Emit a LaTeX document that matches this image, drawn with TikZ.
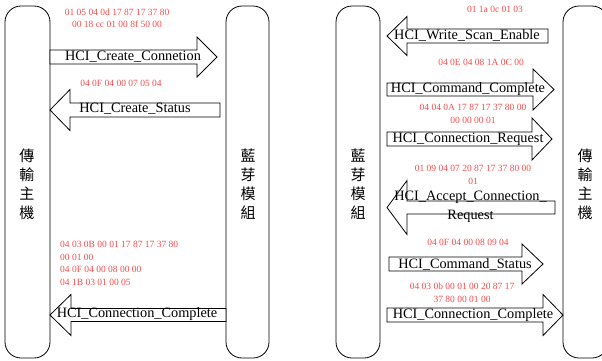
\documentclass[tikz,border=0pt]{standalone}
\usepackage{fontspec}
\setmainfont{Liberation Serif}
\newfontfamily\cjkfont{Noto Sans CJK TC}
\definecolor{hexred}{RGB}{250,75,75}
\tikzset{
  pillar/.style={draw, line width=0.8pt, rounded corners=16pt},
  arrowshape/.style={draw, line width=0.8pt, fill=white},
  lbl/.style={font=\fontsize{14.3}{19}\selectfont, inner sep=0pt, align=center},
  hex/.style={font=\fontsize{9.5}{12.5}\selectfont, text=hexred, inner sep=0pt, align=center},
  hexl/.style={hex, align=left},
  cjk/.style={font=\cjkfont\fontsize{15}{19}\selectfont, inner sep=0pt, align=center},
}
% #1 x start, #2 x shaft end, #3 x tip, #4 y centre, #5 shaft half height, #6 head half height
\newcommand{\BlockArr}[6]{%
  \draw[arrowshape] (#1,#4-#5) -- (#2,#4-#5) -- (#2,#4-#6) -- (#3,#4)
    -- (#2,#4+#6) -- (#2,#4+#5) -- (#1,#4+#5) -- cycle;}
\begin{document}
\begin{tikzpicture}[x=1pt,y=-1pt]
\useasboundingbox (0,0) rectangle (602,360);
\clip (0,0) rectangle (602,360);
% pillars
\draw[pillar] (5,6) rectangle (50,358);
\draw[pillar] (226,6) rectangle (269,358);
\draw[pillar] (336,6) rectangle (380,358);
\draw[pillar] (563,6) rectangle (608,358);
\node[cjk] (hostL) at (27,184) {傳\\輸\\主\\機};
\node[cjk] (btL) at (248,184) {藍\\芽\\模\\組};
\node[cjk] (btR) at (358,184) {藍\\芽\\模\\組};
\node[cjk] (hostR) at (585,184) {傳\\輸\\主\\機};
% left diagram arrows
\BlockArr{50}{197}{217}{57}{7}{20}
\BlockArr{220}{70}{50}{110}{7}{20.5}
\BlockArr{226}{71}{50}{315}{6.5}{20.5}
\node[lbl] (a1) at (133,57) {HCI\_Create\_Connetion};
\node[lbl] (a2) at (135,109) {HCI\_Create\_Status};
\node[lbl] (a3) at (137,314) {HCI\_Connection\_Complete};
\node[hex] (h1) at (117,18) {01 05 04 0d 17 87 17 37 80\\00 18 cc 01 00 8f 50 00};
\node[hex] (h2) at (121,83) {04 0F 04 00 07 05 04};
\node[hexl, anchor=west] (h3) at (60,263.5) {04 03 0B 00 01 17 87 17 37 80\\00 01 00\\04 0F 04 00 08 00 00\\04 1B 03 01 00 05};
% right diagram arrows
\BlockArr{548}{407}{387}{36}{7}{19.5}
\BlockArr{387}{533}{554}{89.5}{6.5}{20.5}
\BlockArr{387}{532}{552}{139}{7}{21}
\BlockArr{555}{407}{387}{207.5}{6.5}{27}
\BlockArr{389}{522}{543}{264}{7}{20}
\BlockArr{387}{543}{563}{315}{7}{20.5}
\node[lbl] (b1) at (467,35) {HCI\_Write\_Scan\_Enable};
\node[lbl] (b2) at (468,89) {HCI\_Command\_Complete};
\node[lbl] (b3) at (468,139) {HCI\_Connection\_Request};
\node[lbl] (b4) at (470.5,206.5) {HCI\_Accept\_Connection\_\\Request};
\node[lbl] (b5) at (465,264) {HCI\_Command\_Status};
\node[lbl] (b6) at (473,315) {HCI\_Connection\_Complete};
\node[hex] (g1) at (495,9) {01 1a 0c 01 03};
\node[hex] (g2) at (481,62) {04 0E 04 08 1A 0C 00};
\node[hex] (g3) at (473,114) {04 04 0A 17 87 17 37 80 00\\00 00 00 01};
\node[hex] (g4) at (473,175) {01 09 04 07 20 87 17 37 80 00\\01};
\node[hex] (g5) at (468,242) {04 0F 04 00 08 09 04};
\node[hex] (g6) at (462,292.5) {04 03 0b 00 01 00 20 87 17\\37 80 00 01 00};
\end{tikzpicture}
\end{document}
